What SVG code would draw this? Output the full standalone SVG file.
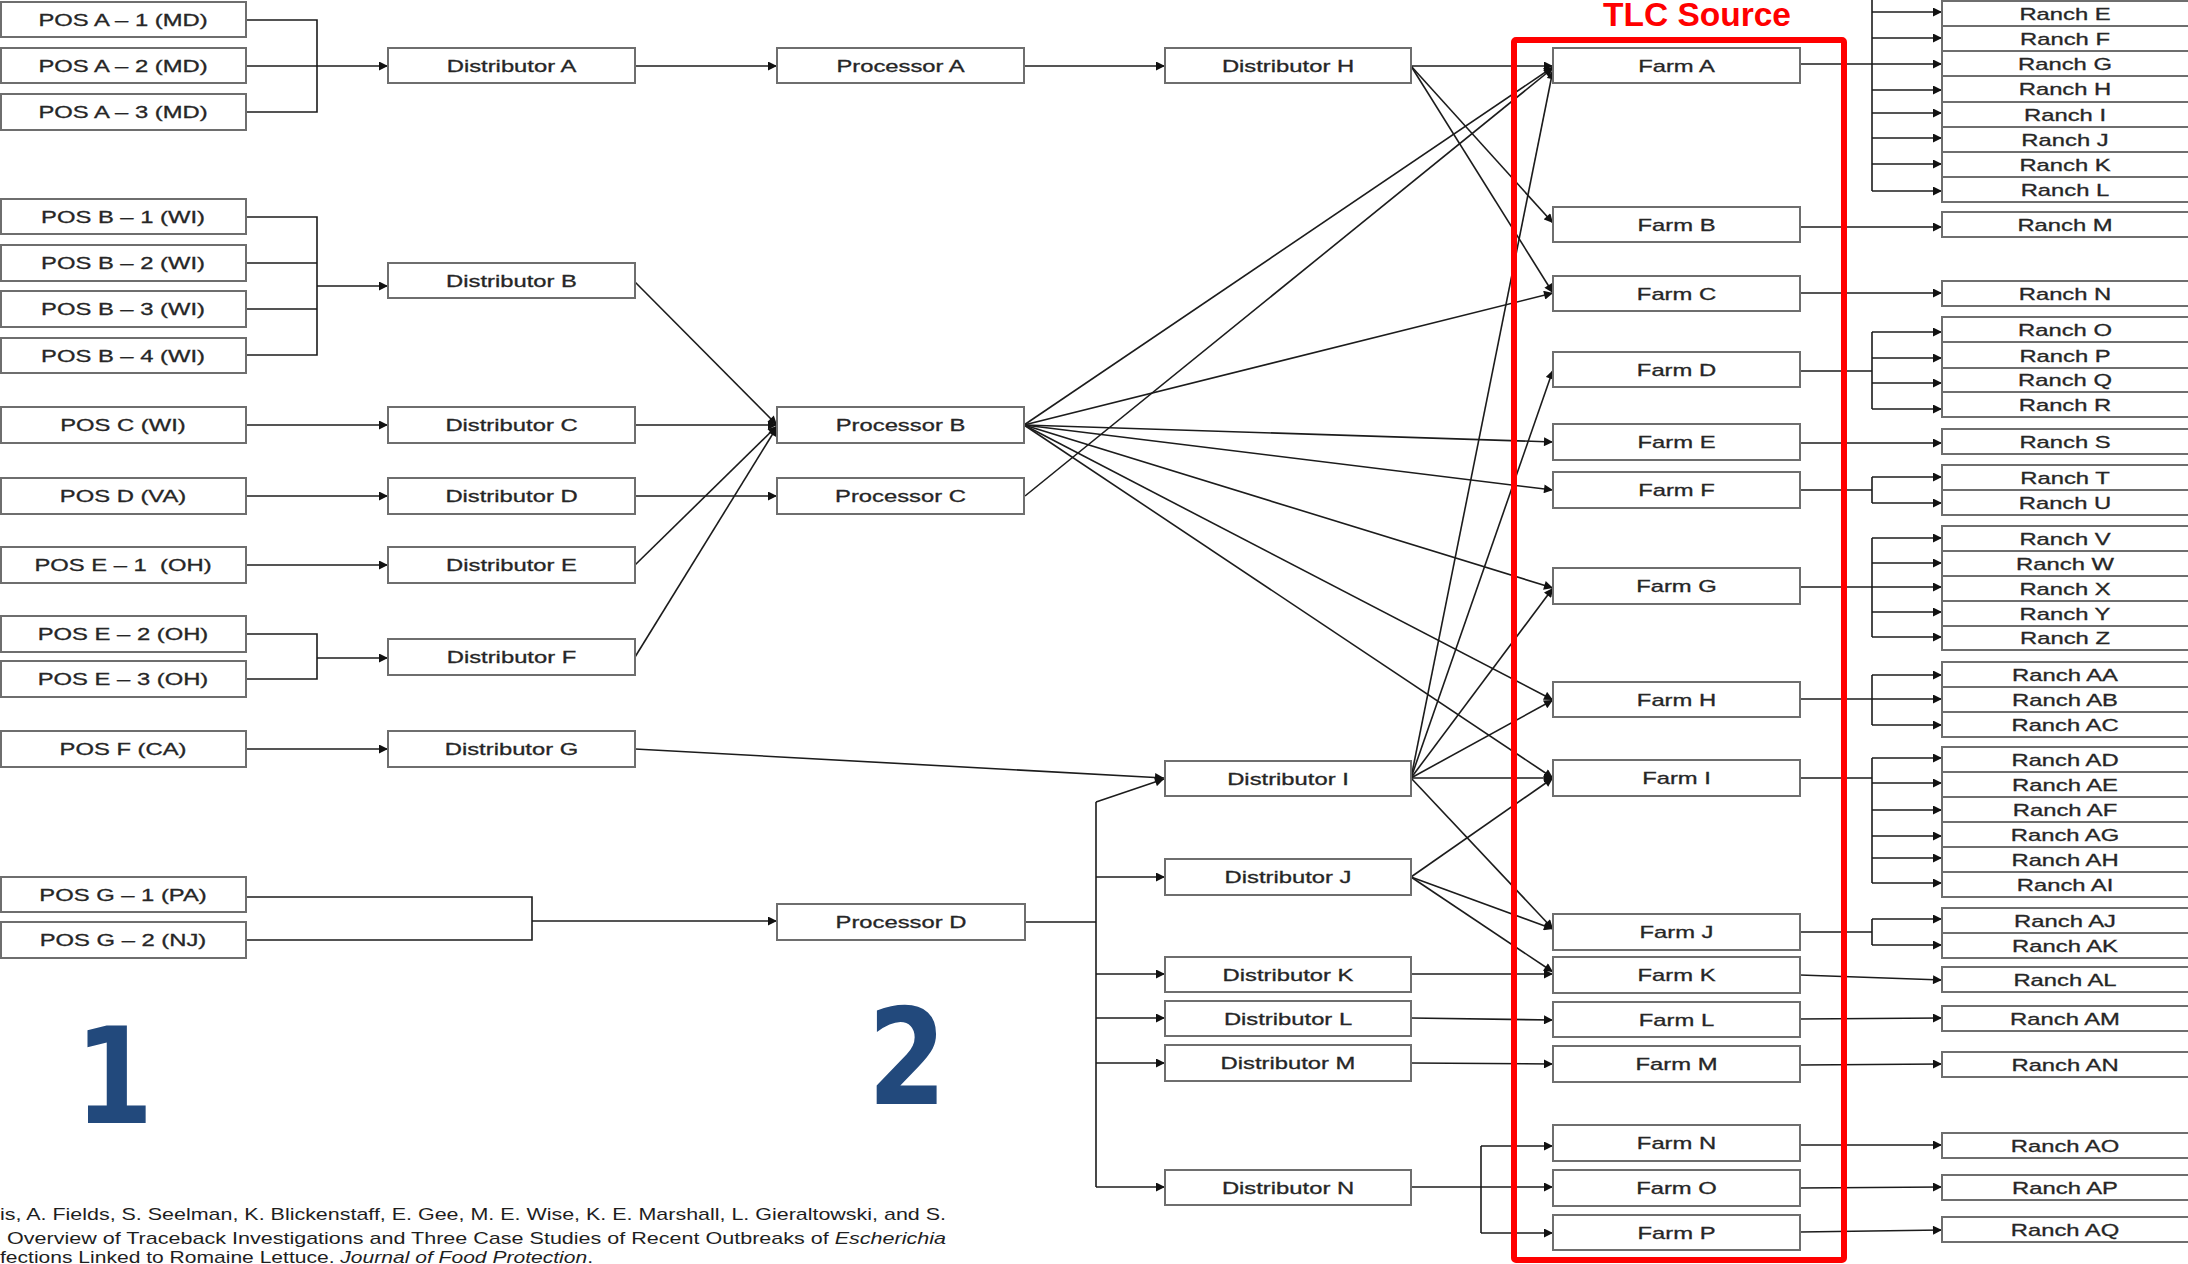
<svg xmlns="http://www.w3.org/2000/svg" width="2188" height="1264" viewBox="0 0 2188 1264">
<defs>
<style>
.box{fill:#ffffff;stroke:#6e6e6e;stroke-width:2}
.lbl{font-family:"Liberation Sans",Arial,sans-serif;font-size:17px;fill:#262626;stroke:#262626;stroke-width:0.3;text-anchor:middle}
.cn{fill:none;stroke:#1c1c1c;stroke-width:1.6}
.ar{marker-end:url(#ah)}
.tlc{fill:none;stroke:#ff0000;stroke-width:6}
.tlct{font-family:"Liberation Sans",Arial,sans-serif;font-size:33.5px;font-weight:bold;fill:#ff0000}
.num{font-family:"DejaVu Sans",sans-serif;font-weight:bold;font-size:133px;fill:#22497c;text-anchor:middle}
.cit{font-family:"Liberation Sans",Arial,sans-serif;font-size:17px;fill:#1e1e1e}
</style>
<marker id="ah" viewBox="0 0 10 10" refX="10" refY="5" markerWidth="10" markerHeight="9" markerUnits="userSpaceOnUse" orient="auto"><path d="M0,0 L10,5 L0,10 z" fill="#111111"/></marker>
</defs>
<rect x="0" y="0" width="2188" height="1264" fill="#ffffff"/>

<g id="connectors">
<path class="cn" d="M246,20 H317 V112 H246"/>
<path class="cn ar" d="M246,66 H388"/>
<path class="cn" d="M246,217 H317 V355 H246 M246,263 H317 M246,309 H317"/>
<path class="cn ar" d="M317,286 H388"/>
<path class="cn ar" d="M246,425 H388"/>
<path class="cn ar" d="M246,496 H388"/>
<path class="cn ar" d="M246,565 H388"/>
<path class="cn" d="M246,634 H317 V679 H246"/>
<path class="cn ar" d="M317,658 H388"/>
<path class="cn ar" d="M246,749 H388"/>
<path class="cn" d="M246,897 H532 V940 H246"/>
<path class="cn ar" d="M532,921 H777"/>
<path class="cn ar" d="M635,66 H777"/>
<path class="cn ar" d="M1024,66 H1165"/>
<path class="cn ar" d="M635,282 L777,425"/>
<path class="cn ar" d="M635,425 H777"/>
<path class="cn ar" d="M635,565 L777,426"/>
<path class="cn ar" d="M635,657 L777,427"/>
<path class="cn ar" d="M635,496 H777"/>
<path class="cn ar" d="M635,749 L1164,778"/>
<path class="cn" d="M1025,922 H1096 M1096,802 V1187"/>
<path class="cn ar" d="M1096,802 L1164,779"/>
<path class="cn ar" d="M1096,877 H1165"/>
<path class="cn ar" d="M1096,974 H1165"/>
<path class="cn ar" d="M1096,1018 H1165"/>
<path class="cn ar" d="M1096,1063 H1165"/>
<path class="cn ar" d="M1096,1187 H1165"/>
<path class="cn ar" d="M1411,66 H1553"/>
<path class="cn ar" d="M1411,66 L1553,223"/>
<path class="cn ar" d="M1411,66 L1553,293"/>
<path class="cn ar" d="M1024,425 L1553,67"/>
<path class="cn ar" d="M1025,496 L1553,68"/>
<path class="cn ar" d="M1024,425 L1553,293"/>
<path class="cn ar" d="M1024,425 L1553,442"/>
<path class="cn ar" d="M1024,425 L1553,490"/>
<path class="cn ar" d="M1024,425 L1553,588"/>
<path class="cn ar" d="M1024,425 L1553,700"/>
<path class="cn ar" d="M1024,425 L1553,778"/>
<path class="cn ar" d="M1411,778 L1553,70"/>
<path class="cn ar" d="M1411,778 L1553,370"/>
<path class="cn ar" d="M1411,778 L1553,588"/>
<path class="cn ar" d="M1411,778 L1553,700"/>
<path class="cn ar" d="M1411,778 H1553"/>
<path class="cn ar" d="M1411,778 L1553,929"/>
<path class="cn ar" d="M1411,877 L1553,778"/>
<path class="cn ar" d="M1411,877 L1553,929"/>
<path class="cn ar" d="M1411,877 L1553,972"/>
<path class="cn ar" d="M1411,974 H1553"/>
<path class="cn ar" d="M1411,1018 L1553,1020"/>
<path class="cn ar" d="M1411,1063 L1553,1064"/>
<path class="cn ar" d="M1411,1187 H1553"/>
<path class="cn" d="M1481,1146 V1233"/>
<path class="cn ar" d="M1481,1146 H1553"/>
<path class="cn ar" d="M1481,1233 H1553"/>
<path class="cn" d="M1872,-2 V191"/>
<path class="cn ar" d="M1800,64 H1942"/>
<path class="cn ar" d="M1872,12 H1942"/>
<path class="cn ar" d="M1872,38 H1942"/>
<path class="cn ar" d="M1872,90 H1942"/>
<path class="cn ar" d="M1872,113 H1942"/>
<path class="cn ar" d="M1872,138 H1942"/>
<path class="cn ar" d="M1872,164 H1942"/>
<path class="cn ar" d="M1872,191 H1942"/>
<path class="cn ar" d="M1800,227 H1942"/>
<path class="cn ar" d="M1800,293 H1942"/>
<path class="cn" d="M1800,371 H1872 M1872,332 V409"/>
<path class="cn ar" d="M1872,332 H1942"/>
<path class="cn ar" d="M1872,358 H1942"/>
<path class="cn ar" d="M1872,383 H1942"/>
<path class="cn ar" d="M1872,409 H1942"/>
<path class="cn ar" d="M1800,443 H1942"/>
<path class="cn" d="M1800,490 H1872 M1872,477 V503"/>
<path class="cn ar" d="M1872,477 H1942"/>
<path class="cn ar" d="M1872,503 H1942"/>
<path class="cn" d="M1872,538 V637"/>
<path class="cn ar" d="M1800,587 H1942"/>
<path class="cn ar" d="M1872,538 H1942"/>
<path class="cn ar" d="M1872,563 H1942"/>
<path class="cn ar" d="M1872,612 H1942"/>
<path class="cn ar" d="M1872,637 H1942"/>
<path class="cn" d="M1872,675 V725"/>
<path class="cn ar" d="M1800,699 H1942"/>
<path class="cn ar" d="M1872,675 H1942"/>
<path class="cn ar" d="M1872,725 H1942"/>
<path class="cn" d="M1800,778 H1872 M1872,758 V883"/>
<path class="cn ar" d="M1872,758 H1942"/>
<path class="cn ar" d="M1872,783 H1942"/>
<path class="cn ar" d="M1872,810 H1942"/>
<path class="cn ar" d="M1872,836 H1942"/>
<path class="cn ar" d="M1872,858 H1942"/>
<path class="cn ar" d="M1872,883 H1942"/>
<path class="cn" d="M1800,932 H1872 M1872,919 V945"/>
<path class="cn ar" d="M1872,919 H1942"/>
<path class="cn ar" d="M1872,945 H1942"/>
<path class="cn ar" d="M1800,975 L1942,980"/>
<path class="cn ar" d="M1800,1019 L1942,1018"/>
<path class="cn ar" d="M1800,1065 L1942,1064"/>
<path class="cn ar" d="M1800,1145 H1942"/>
<path class="cn ar" d="M1800,1188 L1942,1187"/>
<path class="cn ar" d="M1800,1232 L1942,1230"/>
</g>

<g id="pos-a1"><rect class="box" x="1" y="2" width="245" height="35"/><text class="lbl" transform="translate(123,26) scale(1.4,1)">POS A – 1 (MD)</text></g>
<g id="pos-a2"><rect class="box" x="1" y="48" width="245" height="35"/><text class="lbl" transform="translate(123,72) scale(1.4,1)">POS A – 2 (MD)</text></g>
<g id="pos-a3"><rect class="box" x="1" y="94" width="245" height="36"/><text class="lbl" transform="translate(123,118) scale(1.4,1)">POS A – 3 (MD)</text></g>
<g id="pos-b1"><rect class="box" x="1" y="199" width="245" height="35"/><text class="lbl" transform="translate(123,223) scale(1.4,1)">POS B – 1 (WI)</text></g>
<g id="pos-b2"><rect class="box" x="1" y="245" width="245" height="36"/><text class="lbl" transform="translate(123,269) scale(1.4,1)">POS B – 2 (WI)</text></g>
<g id="pos-b3"><rect class="box" x="1" y="291" width="245" height="36"/><text class="lbl" transform="translate(123,315) scale(1.4,1)">POS B – 3 (WI)</text></g>
<g id="pos-b4"><rect class="box" x="1" y="338" width="245" height="35"/><text class="lbl" transform="translate(123,362) scale(1.4,1)">POS B – 4 (WI)</text></g>
<g id="pos-c"><rect class="box" x="1" y="407" width="245" height="36"/><text class="lbl" transform="translate(123,431) scale(1.4,1)">POS C (WI)</text></g>
<g id="pos-d"><rect class="box" x="1" y="478" width="245" height="36"/><text class="lbl" transform="translate(123,502) scale(1.4,1)">POS D (VA)</text></g>
<g id="pos-e1"><rect class="box" x="1" y="547" width="245" height="36"/><text class="lbl" style="white-space:pre" transform="translate(123,571) scale(1.4,1)">POS E – 1  (OH)</text></g>
<g id="pos-e2"><rect class="box" x="1" y="616" width="245" height="36"/><text class="lbl" transform="translate(123,640) scale(1.4,1)">POS E – 2 (OH)</text></g>
<g id="pos-e3"><rect class="box" x="1" y="661" width="245" height="36"/><text class="lbl" transform="translate(123,685) scale(1.4,1)">POS E – 3 (OH)</text></g>
<g id="pos-f"><rect class="box" x="1" y="731" width="245" height="36"/><text class="lbl" transform="translate(123,755) scale(1.4,1)">POS F (CA)</text></g>
<g id="pos-g1"><rect class="box" x="1" y="877" width="245" height="35"/><text class="lbl" transform="translate(123,901) scale(1.4,1)">POS G – 1 (PA)</text></g>
<g id="pos-g2"><rect class="box" x="1" y="922" width="245" height="36"/><text class="lbl" transform="translate(123,946) scale(1.4,1)">POS G – 2 (NJ)</text></g>

<g id="dist-a"><rect class="box" x="388" y="48" width="247" height="35"/><text class="lbl" transform="translate(511.5,72) scale(1.4,1)">Distributor A</text></g>
<g id="dist-b"><rect class="box" x="388" y="263" width="247" height="35"/><text class="lbl" transform="translate(511.5,287) scale(1.4,1)">Distributor B</text></g>
<g id="dist-c"><rect class="box" x="388" y="407" width="247" height="36"/><text class="lbl" transform="translate(511.5,431) scale(1.4,1)">Distributor C</text></g>
<g id="dist-d"><rect class="box" x="388" y="478" width="247" height="36"/><text class="lbl" transform="translate(511.5,502) scale(1.4,1)">Distributor D</text></g>
<g id="dist-e"><rect class="box" x="388" y="547" width="247" height="36"/><text class="lbl" transform="translate(511.5,571) scale(1.4,1)">Distributor E</text></g>
<g id="dist-f"><rect class="box" x="388" y="639" width="247" height="36"/><text class="lbl" transform="translate(511.5,663) scale(1.4,1)">Distributor F</text></g>
<g id="dist-g"><rect class="box" x="388" y="731" width="247" height="36"/><text class="lbl" transform="translate(511.5,755) scale(1.4,1)">Distributor G</text></g>

<g id="proc-a"><rect class="box" x="777" y="48" width="247" height="35"/><text class="lbl" transform="translate(900.5,72) scale(1.4,1)">Processor A</text></g>
<g id="proc-b"><rect class="box" x="777" y="407" width="247" height="36"/><text class="lbl" transform="translate(900.5,431) scale(1.4,1)">Processor B</text></g>
<g id="proc-c"><rect class="box" x="777" y="478" width="247" height="36"/><text class="lbl" transform="translate(900.5,502) scale(1.4,1)">Processor C</text></g>
<g id="proc-d"><rect class="box" x="777" y="904" width="248" height="36"/><text class="lbl" transform="translate(901,928) scale(1.4,1)">Processor D</text></g>

<g id="dist-h"><rect class="box" x="1165" y="48" width="246" height="35"/><text class="lbl" transform="translate(1288,72) scale(1.4,1)">Distributor H</text></g>
<g id="dist-i"><rect class="box" x="1165" y="761" width="246" height="35"/><text class="lbl" transform="translate(1288,785) scale(1.4,1)">Distributor I</text></g>
<g id="dist-j"><rect class="box" x="1165" y="859" width="246" height="36"/><text class="lbl" transform="translate(1288,883) scale(1.4,1)">Distributor J</text></g>
<g id="dist-k"><rect class="box" x="1165" y="957" width="246" height="35"/><text class="lbl" transform="translate(1288,981) scale(1.4,1)">Distributor K</text></g>
<g id="dist-l"><rect class="box" x="1165" y="1001" width="246" height="35"/><text class="lbl" transform="translate(1288,1025) scale(1.4,1)">Distributor L</text></g>
<g id="dist-m"><rect class="box" x="1165" y="1045" width="246" height="36"/><text class="lbl" transform="translate(1288,1069) scale(1.4,1)">Distributor M</text></g>
<g id="dist-n"><rect class="box" x="1165" y="1170" width="246" height="35"/><text class="lbl" transform="translate(1288,1194) scale(1.4,1)">Distributor N</text></g>

<g id="farm-a"><rect class="box" x="1553" y="48" width="247" height="35"/><text class="lbl" transform="translate(1676.5,72) scale(1.4,1)">Farm A</text></g>
<g id="farm-b"><rect class="box" x="1553" y="207" width="247" height="35"/><text class="lbl" transform="translate(1676.5,231) scale(1.4,1)">Farm B</text></g>
<g id="farm-c"><rect class="box" x="1553" y="276" width="247" height="35"/><text class="lbl" transform="translate(1676.5,300) scale(1.4,1)">Farm C</text></g>
<g id="farm-d"><rect class="box" x="1553" y="352" width="247" height="35"/><text class="lbl" transform="translate(1676.5,376) scale(1.4,1)">Farm D</text></g>
<g id="farm-e"><rect class="box" x="1553" y="424" width="247" height="36"/><text class="lbl" transform="translate(1676.5,448) scale(1.4,1)">Farm E</text></g>
<g id="farm-f"><rect class="box" x="1553" y="472" width="247" height="36"/><text class="lbl" transform="translate(1676.5,496) scale(1.4,1)">Farm F</text></g>
<g id="farm-g"><rect class="box" x="1553" y="568" width="247" height="36"/><text class="lbl" transform="translate(1676.5,592) scale(1.4,1)">Farm G</text></g>
<g id="farm-h"><rect class="box" x="1553" y="682" width="247" height="35"/><text class="lbl" transform="translate(1676.5,706) scale(1.4,1)">Farm H</text></g>
<g id="farm-i"><rect class="box" x="1553" y="760" width="247" height="36"/><text class="lbl" transform="translate(1676.5,784) scale(1.4,1)">Farm I</text></g>
<g id="farm-j"><rect class="box" x="1553" y="914" width="247" height="36"/><text class="lbl" transform="translate(1676.5,938) scale(1.4,1)">Farm J</text></g>
<g id="farm-k"><rect class="box" x="1553" y="957" width="247" height="36"/><text class="lbl" transform="translate(1676.5,981) scale(1.4,1)">Farm K</text></g>
<g id="farm-l"><rect class="box" x="1553" y="1002" width="247" height="35"/><text class="lbl" transform="translate(1676.5,1026) scale(1.4,1)">Farm L</text></g>
<g id="farm-m"><rect class="box" x="1553" y="1046" width="247" height="36"/><text class="lbl" transform="translate(1676.5,1070) scale(1.4,1)">Farm M</text></g>
<g id="farm-n"><rect class="box" x="1553" y="1125" width="247" height="36"/><text class="lbl" transform="translate(1676.5,1149) scale(1.4,1)">Farm N</text></g>
<g id="farm-o"><rect class="box" x="1553" y="1170" width="247" height="36"/><text class="lbl" transform="translate(1676.5,1194) scale(1.4,1)">Farm O</text></g>
<g id="farm-p"><rect class="box" x="1553" y="1215" width="247" height="35"/><text class="lbl" transform="translate(1676.5,1239) scale(1.4,1)">Farm P</text></g>

<g id="ranch-e"><rect class="box" x="1942" y="1" width="247" height="25"/><text class="lbl" transform="translate(2065,19.5) scale(1.4,1)">Ranch E</text></g>
<g id="ranch-f"><rect class="box" x="1942" y="26" width="247" height="25"/><text class="lbl" transform="translate(2065,44.5) scale(1.4,1)">Ranch F</text></g>
<g id="ranch-g"><rect class="box" x="1942" y="51" width="247" height="25"/><text class="lbl" transform="translate(2065,69.5) scale(1.4,1)">Ranch G</text></g>
<g id="ranch-h"><rect class="box" x="1942" y="76" width="247" height="26"/><text class="lbl" transform="translate(2065,95) scale(1.4,1)">Ranch H</text></g>
<g id="ranch-i"><rect class="box" x="1942" y="102" width="247" height="25"/><text class="lbl" transform="translate(2065,120.5) scale(1.4,1)">Ranch I</text></g>
<g id="ranch-j"><rect class="box" x="1942" y="127" width="247" height="25"/><text class="lbl" transform="translate(2065,145.5) scale(1.4,1)">Ranch J</text></g>
<g id="ranch-k"><rect class="box" x="1942" y="152" width="247" height="25"/><text class="lbl" transform="translate(2065,170.5) scale(1.4,1)">Ranch K</text></g>
<g id="ranch-l"><rect class="box" x="1942" y="177" width="247" height="25"/><text class="lbl" transform="translate(2065,195.5) scale(1.4,1)">Ranch L</text></g>
<g id="ranch-m"><rect class="box" x="1942" y="212" width="247" height="25"/><text class="lbl" transform="translate(2065,230.5) scale(1.4,1)">Ranch M</text></g>
<g id="ranch-n"><rect class="box" x="1942" y="281" width="247" height="25"/><text class="lbl" transform="translate(2065,299.5) scale(1.4,1)">Ranch N</text></g>
<g id="ranch-o"><rect class="box" x="1942" y="317" width="247" height="25"/><text class="lbl" transform="translate(2065,336) scale(1.4,1)">Ranch O</text></g>
<g id="ranch-p"><rect class="box" x="1942" y="342" width="247" height="26"/><text class="lbl" transform="translate(2065,361.5) scale(1.4,1)">Ranch P</text></g>
<g id="ranch-q"><rect class="box" x="1942" y="368" width="247" height="24"/><text class="lbl" transform="translate(2065,386) scale(1.4,1)">Ranch Q</text></g>
<g id="ranch-r"><rect class="box" x="1942" y="392" width="247" height="25"/><text class="lbl" transform="translate(2065,410.5) scale(1.4,1)">Ranch R</text></g>
<g id="ranch-s"><rect class="box" x="1942" y="429" width="247" height="25"/><text class="lbl" transform="translate(2065,447.5) scale(1.4,1)">Ranch S</text></g>
<g id="ranch-t"><rect class="box" x="1942" y="465" width="247" height="25"/><text class="lbl" transform="translate(2065,483.5) scale(1.4,1)">Ranch T</text></g>
<g id="ranch-u"><rect class="box" x="1942" y="490" width="247" height="25"/><text class="lbl" transform="translate(2065,508.5) scale(1.4,1)">Ranch U</text></g>
<g id="ranch-v"><rect class="box" x="1942" y="526" width="247" height="25"/><text class="lbl" transform="translate(2065,544.5) scale(1.4,1)">Ranch V</text></g>
<g id="ranch-w"><rect class="box" x="1942" y="551" width="247" height="25"/><text class="lbl" transform="translate(2065,569.5) scale(1.4,1)">Ranch W</text></g>
<g id="ranch-x"><rect class="box" x="1942" y="576" width="247" height="25"/><text class="lbl" transform="translate(2065,594.5) scale(1.4,1)">Ranch X</text></g>
<g id="ranch-y"><rect class="box" x="1942" y="601" width="247" height="25"/><text class="lbl" transform="translate(2065,619.5) scale(1.4,1)">Ranch Y</text></g>
<g id="ranch-z"><rect class="box" x="1942" y="626" width="247" height="24"/><text class="lbl" transform="translate(2065,644) scale(1.4,1)">Ranch Z</text></g>
<g id="ranch-aa"><rect class="box" x="1942" y="662" width="247" height="25"/><text class="lbl" transform="translate(2065,680.5) scale(1.4,1)">Ranch AA</text></g>
<g id="ranch-ab"><rect class="box" x="1942" y="687" width="247" height="25"/><text class="lbl" transform="translate(2065,705.5) scale(1.4,1)">Ranch AB</text></g>
<g id="ranch-ac"><rect class="box" x="1942" y="712" width="247" height="25"/><text class="lbl" transform="translate(2065,730.5) scale(1.4,1)">Ranch AC</text></g>
<g id="ranch-ad"><rect class="box" x="1942" y="747" width="247" height="25"/><text class="lbl" transform="translate(2065,765.5) scale(1.4,1)">Ranch AD</text></g>
<g id="ranch-ae"><rect class="box" x="1942" y="772" width="247" height="25"/><text class="lbl" transform="translate(2065,790.5) scale(1.4,1)">Ranch AE</text></g>
<g id="ranch-af"><rect class="box" x="1942" y="797" width="247" height="25"/><text class="lbl" transform="translate(2065,815.5) scale(1.4,1)">Ranch AF</text></g>
<g id="ranch-ag"><rect class="box" x="1942" y="822" width="247" height="25"/><text class="lbl" transform="translate(2065,840.5) scale(1.4,1)">Ranch AG</text></g>
<g id="ranch-ah"><rect class="box" x="1942" y="847" width="247" height="25"/><text class="lbl" transform="translate(2065,865.5) scale(1.4,1)">Ranch AH</text></g>
<g id="ranch-ai"><rect class="box" x="1942" y="872" width="247" height="25"/><text class="lbl" transform="translate(2065,890.5) scale(1.4,1)">Ranch AI</text></g>
<g id="ranch-aj"><rect class="box" x="1942" y="908" width="247" height="25"/><text class="lbl" transform="translate(2065,926.5) scale(1.4,1)">Ranch AJ</text></g>
<g id="ranch-ak"><rect class="box" x="1942" y="933" width="247" height="25"/><text class="lbl" transform="translate(2065,951.5) scale(1.4,1)">Ranch AK</text></g>
<g id="ranch-al"><rect class="box" x="1942" y="967" width="247" height="25"/><text class="lbl" transform="translate(2065,985.5) scale(1.4,1)">Ranch AL</text></g>
<g id="ranch-am"><rect class="box" x="1942" y="1006" width="247" height="25"/><text class="lbl" transform="translate(2065,1024.5) scale(1.4,1)">Ranch AM</text></g>
<g id="ranch-an"><rect class="box" x="1942" y="1052" width="247" height="25"/><text class="lbl" transform="translate(2065,1070.5) scale(1.4,1)">Ranch AN</text></g>
<g id="ranch-ao"><rect class="box" x="1942" y="1133" width="247" height="25"/><text class="lbl" transform="translate(2065,1151.5) scale(1.4,1)">Ranch AO</text></g>
<g id="ranch-ap"><rect class="box" x="1942" y="1175" width="247" height="25"/><text class="lbl" transform="translate(2065,1193.5) scale(1.4,1)">Ranch AP</text></g>
<g id="ranch-aq"><rect class="box" x="1942" y="1217" width="247" height="25"/><text class="lbl" transform="translate(2065,1235.5) scale(1.4,1)">Ranch AQ</text></g>

<g id="tlc-source">
<rect class="tlc" x="1514" y="40" width="330" height="1220" rx="2"/>
<text class="tlct" x="1603" y="26">TLC Source</text>
</g>

<g id="stage-numbers">
<text class="num" transform="translate(114,1123) scale(0.85,1)">1</text>
<text class="num" transform="translate(907,1104) scale(0.85,1)">2</text>
</g>

<g id="citation">
<text class="cit" x="0" y="1220" textLength="946" lengthAdjust="spacingAndGlyphs">is, A. Fields, S. Seelman, K. Blickenstaff, E. Gee, M. E. Wise, K. E. Marshall, L. Gieraltowski, and S.</text>
<text class="cit" x="7" y="1244" textLength="939" lengthAdjust="spacingAndGlyphs">Overview of Traceback Investigations and Three Case Studies of Recent Outbreaks of <tspan font-style="italic">Escherichia</tspan></text>
<text class="cit" x="0" y="1263" textLength="593" lengthAdjust="spacingAndGlyphs">fections Linked to Romaine Lettuce. <tspan font-style="italic">Journal of Food Protection</tspan>.</text>
</g>
</svg>
